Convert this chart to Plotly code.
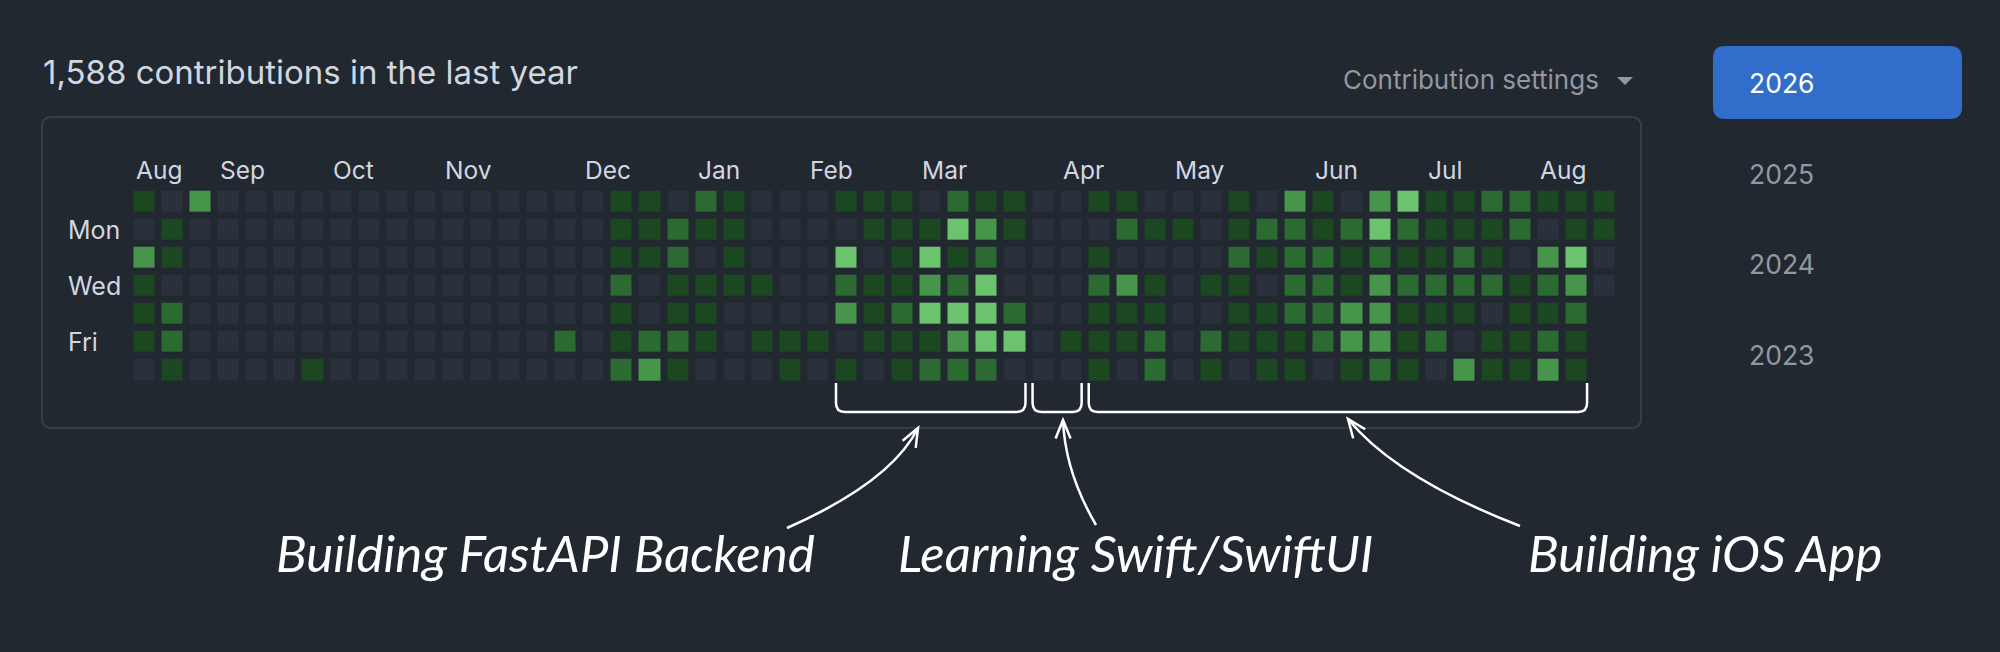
import math
import plotly.graph_objects as go

# ------------------------------------------------------------------ data
TITLE = "1,588 contributions in the last year"
WEEKDAYS = ["Sun", "Mon", "Tue", "Wed", "Thu", "Fri", "Sat"]

# contribution level (0-4) per week column (53 weeks), one list per weekday
SUN = [1, 0, 3, 0, 0, 0, 0, 0, 0, 0,
       0, 0, 0, 0, 0, 0, 0, 1, 1, 0,
       2, 1, 0, 0, 0, 1, 1, 1, 0, 2,
       1, 1, 0, 0, 1, 1, 0, 0, 0, 1,
       0, 3, 1, 0, 3, 4, 1, 1, 2, 2,
       1, 1, 1]
MON = [0, 1, 0, 0, 0, 0, 0, 0, 0, 0,
       0, 0, 0, 0, 0, 0, 0, 1, 1, 2,
       1, 1, 0, 0, 0, 0, 1, 1, 1, 4,
       3, 1, 0, 0, 0, 2, 1, 1, 0, 1,
       2, 2, 1, 2, 4, 2, 1, 1, 1, 2,
       0, 1, 1]
TUE = [3, 1, 0, 0, 0, 0, 0, 0, 0, 0,
       0, 0, 0, 0, 0, 0, 0, 1, 1, 2,
       0, 1, 0, 0, 0, 4, 0, 1, 4, 1,
       2, 0, 0, 0, 1, 0, 0, 0, 0, 2,
       1, 2, 2, 1, 2, 1, 1, 2, 1, 0,
       3, 4, 0]
WED = [1, 0, 0, 0, 0, 0, 0, 0, 0, 0,
       0, 0, 0, 0, 0, 0, 0, 2, 0, 1,
       1, 1, 1, 0, 0, 2, 1, 1, 3, 2,
       4, 0, 0, 0, 2, 3, 1, 0, 1, 1,
       0, 2, 2, 1, 3, 2, 2, 2, 2, 1,
       2, 3, 0]
THU = [1, 2, 0, 0, 0, 0, 0, 0, 0, 0,
       0, 0, 0, 0, 0, 0, 0, 1, 0, 1,
       1, 0, 0, 0, 0, 3, 1, 2, 4, 4,
       4, 2, 0, 0, 1, 1, 1, 0, 0, 1,
       1, 2, 2, 3, 3, 1, 1, 1, 0, 1,
       1, 2, None]
FRI = [1, 2, 0, 0, 0, 0, 0, 0, 0, 0,
       0, 0, 0, 0, 0, 2, 0, 1, 2, 2,
       1, 0, 1, 1, 1, 0, 1, 1, 1, 3,
       4, 4, 0, 1, 1, 1, 2, 0, 2, 1,
       1, 1, 2, 3, 3, 1, 2, 0, 1, 1,
       2, 1, None]
SAT = [0, 1, 0, 0, 0, 0, 1, 0, 0, 0,
       0, 0, 0, 0, 0, 0, 0, 2, 3, 1,
       0, 0, 0, 1, 0, 1, 0, 1, 2, 2,
       2, 0, 0, 0, 1, 0, 2, 0, 1, 0,
       1, 1, 0, 1, 2, 1, 0, 3, 1, 1,
       3, 1, None]

MONTHS = ["Aug", "Sep", "Oct", "Nov", "Dec", "Jan", "Feb",
          "Mar", "Apr", "May", "Jun", "Jul", "Aug"]
MONTH_COLS = [0, 3, 7, 11, 16, 20, 24, 28, 33, 37, 42, 46, 50]
DAY_LABELS = ["Mon", "Wed", "Fri"]
DAY_ROWS = [1, 3, 5]
YEARS = ["2026", "2025", "2024", "2023"]

PHASES = ["Building FastAPI Backend", "Learning Swift/SwiftUI", "Building iOS App"]
PHASE_START = [25, 32, 34]
PHASE_END = [31, 33, 51]

# ------------------------------------------------------------------ style / layout
W, H = 2000, 652
BG = "#212830"
LEVEL_COLORS = ["#2a313c", "#1b4721", "#2b6a30", "#46954a", "#6bc46d"]
FG = "#d1d7e0"
MUTED = "#9198a1"
BORDER = "#3d444d"
ACCENT = "#316dca"
UI_FONT = "Inter, Roboto, 'Noto Sans', sans-serif"
HAND_FONT = "Lato, 'DejaVu Sans Condensed', 'Noto Sans', sans-serif"

X0, PX = 144.5, 28.08      # pixel centre of week 0 and week pitch
Y0, PY = 201.7, 28.07      # pixel centre of Sunday row and row pitch
HALF = 10.5                # half cell size in px


def dx(p):
    return (p - X0) / PX


def dy(p):
    return (p - Y0) / PY


def P(x, y):
    return f"{dx(x):.4f},{dy(y):.4f}"


def rrect(x0, y0, x1, y1, r):
    return (f"M {P(x0 + r, y0)} L {P(x1 - r, y0)} Q {P(x1, y0)} {P(x1, y0 + r)} "
            f"L {P(x1, y1 - r)} Q {P(x1, y1)} {P(x1 - r, y1)} L {P(x0 + r, y1)} "
            f"Q {P(x0, y1)} {P(x0, y1 - r)} L {P(x0, y0 + r)} Q {P(x0, y0)} {P(x0 + r, y0)} Z")


z = [SUN, MON, TUE, WED, THU, FRI, SAT]
for row in z:
    assert len(row) == 53

n = len(LEVEL_COLORS)
cscale = []
for i, c in enumerate(LEVEL_COLORS):
    cscale.append([i / n, c])
    cscale.append([(i + 1) / n, c])

fig = go.Figure()
fig.add_trace(go.Heatmap(
    z=z, x=list(range(53)), y=list(range(7)),
    xgap=7, ygap=7, colorscale=cscale, zmin=-0.5, zmax=4.5,
    showscale=False, hoverinfo="skip"))

shapes = []
annotations = []

# outer box
shapes.append(dict(type="path", path=rrect(42, 117, 1641, 428, 10),
                   line=dict(color=BORDER, width=1.5), fillcolor="rgba(0,0,0,0)",
                   xref="x", yref="y", layer="below"))
# year button
shapes.append(dict(type="path", path=rrect(1713, 46, 1962, 119, 12),
                   line=dict(width=0), fillcolor=ACCENT, xref="x", yref="y", layer="below"))
# dropdown triangle
shapes.append(dict(type="path", path=f"M {P(1617, 77)} L {P(1633, 77)} L {P(1625, 85)} Z",
                   line=dict(width=0), fillcolor=MUTED, xref="x", yref="y"))

# title
annotations.append(dict(text=TITLE, x=dx(41), y=dy(72), xref="x", yref="y",
                        xanchor="left", yanchor="middle", showarrow=False,
                        font=dict(family=UI_FONT, size=33, color=FG)))
annotations.append(dict(text="Contribution settings", x=dx(1341), y=dy(79), xref="x", yref="y",
                        xanchor="left", yanchor="middle", showarrow=False,
                        font=dict(family=UI_FONT, size=26, color=MUTED)))
# years
for i, yr in enumerate(YEARS):
    annotations.append(dict(text=yr, x=dx(1747), y=dy(83 + 90.7 * i), xref="x", yref="y",
                            xanchor="left", yanchor="middle", showarrow=False,
                            font=dict(family=UI_FONT, size=26.5,
                                      color="#ffffff" if i == 0 else MUTED)))
# month labels
for m, c in zip(MONTHS, MONTH_COLS):
    annotations.append(dict(text=m, x=c - HALF / PX, y=dy(170), xref="x", yref="y",
                            xanchor="left", yanchor="middle", showarrow=False,
                            font=dict(family=UI_FONT, size=24.5, color=FG)))
# day labels
for d, r in zip(DAY_LABELS, DAY_ROWS):
    annotations.append(dict(text=d, x=dx(66), y=r, xref="x", yref="y",
                            xanchor="left", yanchor="middle", showarrow=False,
                            font=dict(family=UI_FONT, size=25, color=FG)))

# braces under phases
for s, e in zip(PHASE_START, PHASE_END):
    xl = X0 + PX * s - HALF
    xr = X0 + PX * e + HALF
    path = (f"M {P(xl, 383)} L {P(xl, 403)} Q {P(xl, 412)} {P(xl + 9, 412)} "
            f"L {P(xr - 9, 412)} Q {P(xr, 412)} {P(xr, 403)} L {P(xr, 383)}")
    shapes.append(dict(type="path", path=path, line=dict(color="#ffffff", width=2.5),
                       xref="x", yref="y"))

# arrows (start near label, control, tip)
ARROWS = [((787, 528), (891, 482), (918, 428)),
          ((1096, 525), (1065, 472), (1063, 420)),
          ((1520, 526), (1396, 478), (1348, 419))]
for p0, cp, tip in ARROWS:
    shapes.append(dict(type="path",
                       path=f"M {P(*p0)} Q {P(*cp)} {P(*tip)}",
                       line=dict(color="#ffffff", width=2.5), xref="x", yref="y"))
    vx, vy = tip[0] - cp[0], tip[1] - cp[1]
    L = math.hypot(vx, vy)
    bx, by = -vx / L, -vy / L
    barbs = []
    for ang in (math.radians(24), math.radians(-20)):
        rx = bx * math.cos(ang) - by * math.sin(ang)
        ry = bx * math.sin(ang) + by * math.cos(ang)
        barbs.append((tip[0] + 20 * rx, tip[1] + 20 * ry))
    shapes.append(dict(type="path",
                       path=f"M {P(*barbs[0])} L {P(*tip)} L {P(*barbs[1])}",
                       line=dict(color="#ffffff", width=2.5), xref="x", yref="y"))

# phase labels
LABEL_X = [274, 896, 1526]
for t, lx in zip(PHASES, LABEL_X):
    annotations.append(dict(text=t, x=dx(lx), y=dy(552), xref="x", yref="y",
                            xanchor="left", yanchor="middle", showarrow=False,
                            font=dict(family=HAND_FONT, size=51, color="#ffffff",
                                      style="italic")))

fig.update_layout(
    width=W, height=H, margin=dict(l=0, r=0, t=0, b=0),
    paper_bgcolor=BG, plot_bgcolor=BG,
    xaxis=dict(range=[dx(0), dx(W)], visible=False, fixedrange=True),
    yaxis=dict(range=[dy(H), dy(0)], visible=False, fixedrange=True),
    shapes=shapes, annotations=annotations, showlegend=False,
)

fig.write_html(
    "out.html",
    config={"displayModeBar": False},
    post_script="document.body.style.margin='0';document.body.style.background='%s';" % BG,
)
